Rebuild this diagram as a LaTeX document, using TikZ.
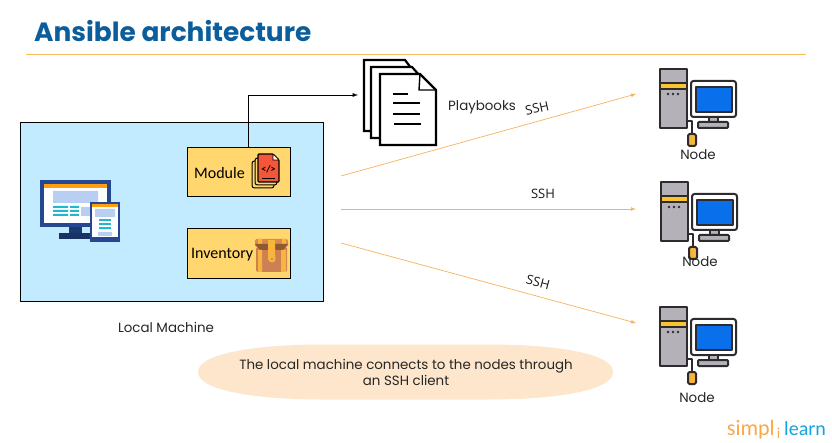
\documentclass[tikz,border=0pt]{standalone}
\usepackage{fontspec}
\setmainfont{Open Sans}
\newfontfamily\titlefont{Poppins}
\newfontfamily\labelfont{Carlito}
\definecolor{titleblue}{HTML}{0B5E9B}
\definecolor{rulegold}{HTML}{FBBC5E}
\definecolor{skyfill}{HTML}{C2EBFF}
\definecolor{boxfill}{HTML}{FFD76E}
\definecolor{pillfill}{HTML}{FDE6CC}
\definecolor{navy}{HTML}{24478F}
\definecolor{teal}{HTML}{1FB8CF}
\definecolor{paleblue}{HTML}{B9CFF2}
\definecolor{amber}{HTML}{FF9F0F}
\definecolor{linkorange}{HTML}{F9B25C}
\definecolor{towergrey}{HTML}{B4B2B8}
\definecolor{screenblue}{HTML}{0A6FEA}
\definecolor{ink}{HTML}{2D2B2E}
\definecolor{codered}{HTML}{F4563A}
\definecolor{chest}{HTML}{CE8055}
\definecolor{chestgold}{HTML}{F7B53B}
\definecolor{chesttop}{HTML}{8F5A32}
\definecolor{logoorange}{HTML}{F9A84A}
\definecolor{logoblue}{HTML}{12A5E0}
\begin{document}
\begin{tikzpicture}[x=1pt, y=-1pt,
    box/.style={draw, line width=0.9pt, fill=boxfill, minimum width=103pt, minimum height=49.5pt, inner sep=0pt},
    caption/.style={font=\fontsize{13.4}{15}\titlefont, text=black!85, inner sep=0pt},
    sshlabel/.style={font=\fontsize{13}{15}\selectfont, text=black!90, inner sep=0pt},
    link/.style={-latex, linkorange, line width=0.7pt},
    page/.style={draw=black, fill=white, line width=2.2pt, line join=miter},
    pcpart/.style={draw=ink, line width=2pt, line join=round},
    pcicon/.pic={
        \draw[pcpart, fill=towergrey] (0,0) rectangle (27,59);
        \fill[chestgold!80!yellow] (1,14) rectangle (26,20);
        \draw[ink, line width=1.5pt] (0,14) -- (27,14) (0,20) -- (27,20);
        \foreach \dotx in {8,13,18} \fill[ink] (\dotx,25) circle (1.4pt);
        \draw[pcpart, line width=1.3pt, fill=none] (27,52) -- (32,52) -- (32,65);
        \draw[pcpart, fill=chestgold, rounded corners=1.5pt] (28,65) rectangle (36,77);
        \draw[pcpart, rounded corners=2.5pt, fill=white] (31,12) rectangle (76,48);
        \draw[pcpart, fill=screenblue] (36,18) rectangle (72,43);
        \draw[pcpart, line width=1.3pt, fill=towergrey] (49,48) rectangle (58,53);
        \draw[pcpart, fill=towergrey, rounded corners=1pt] (38,53) rectangle (68,59);
    }]
    % frame
    \path[use as bounding box, fill=white] (0,0) rectangle (832,443);
    % title
    \node[anchor=west, inner sep=0pt, text=titleblue, font=\fontsize{26.4}{30}\titlefont\bfseries] (title) at (34,31) {Ansible architecture};
    \coordinate (ruleL) at (26,54);
    \coordinate (ruleR) at (806,54);
    \draw[rulegold, line width=0.9pt] (ruleL) -- (ruleR);
    % local machine
    \node[draw, line width=0.9pt, fill=skyfill, minimum width=303pt, minimum height=179pt, inner sep=0pt] (local) at (171.5,211.5) {};
    \node[caption] (localname) at (166,327) {Local Machine};
    \node[box] (module) at (238.5,172) {};
    \node[box] (inventory) at (238.5,253.5) {};
    \node[anchor=west, inner sep=0pt, font=\fontsize{16}{18}\labelfont] (modulename) at (194,173) {Module};
    \node[anchor=west, inner sep=0pt, font=\fontsize{16}{18}\labelfont] (inventoryname) at (191,255) {Inventory};
    % desktop and tablet
    \fill[navy] (40,180) rectangle (111,227);
    \fill[amber] (44,184) rectangle (107,188);
    \fill[white] (44,188) rectangle (107,223);
    \fill[paleblue] (53,191) rectangle (98,203) (81,207) rectangle (90,216);
    \foreach \rowy in {207,211,215} \fill[teal] (53,\rowy-1) rectangle (68,\rowy+1) (70,\rowy-1) rectangle (79,\rowy+1);
    \fill[navy!80!black] (69,227) rectangle (82,233);
    \fill[navy!70!black] (59,233) rectangle (92,239);
    \fill[navy] (90,202) rectangle (120,242);
    \fill[amber] (92,204) rectangle (118,207);
    \fill[white] (92,207) rectangle (118,237);
    \fill[paleblue] (95,209) rectangle (115,217) (98,232) rectangle (112,236);
    \foreach \rowy in {220,224,228} \fill[teal] (99,\rowy-1) rectangle (111,\rowy+1);
    % module icon
    \foreach \shift in {0,3} \draw[black, line width=1pt, fill=boxfill, rounded corners=2.5pt] (252+\shift,161-\shift) rectangle (274+\shift,188-\shift);
    \draw[black, line width=1.1pt, fill=codered, rounded corners=1pt] (258,154) -- (273,154) -- (279,160) -- (279,182) -- (258,182) -- cycle;
    \draw[black, fill=white, line width=0.6pt] (273,154) -- (273,160) -- (279,160) -- cycle;
    \draw[black, line width=0.8pt] (262,178) -- (275,178);
    \node[inner sep=0pt, font=\fontsize{10}{11}\labelfont\bfseries] (codetag) at (268.5,169) {</>};
    % inventory icon
    \fill[chest, rounded corners=1.5pt] (256,247) rectangle (287,272);
    \fill[chest!80!chestgold, rounded corners=2pt] (255,239) rectangle (288,247);
    \fill[chestgold] (258,239) rectangle (262,245) (282,239) rectangle (286,245);
    \fill[chesttop] (255,244) -- (288,244) -- (283,250) -- (260,250) -- cycle;
    \fill[chestgold] (258,250) rectangle (262,272) (281,250) rectangle (286,272) (268,240) rectangle (275,260);
    \fill[chestgold] (272,259) circle (3.5pt);
    \fill[chest] (272,259) circle (1.2pt);
    % playbooks
    \draw[page] (364,60) -- (405,60) -- (420,80) -- (420,131) -- (364,131) -- cycle;
    \draw[page] (371,67) -- (412,67) -- (428,85) -- (428,138) -- (371,138) -- cycle;
    \draw[page] (380,74) -- (420,74) -- (436,90) -- (436,145) -- (380,145) -- cycle;
    \draw[black, line width=1.4pt] (420,74) -- (419,90) -- (436,90);
    \draw[black, line width=1.4pt] (393,94) -- (408,94) (393,103) -- (420,103) (393,114) -- (420,114) (394,124) -- (421,124);
    \coordinate (playin) at (358,95);
    \node[caption, anchor=west] (playname) at (448,107) {Playbooks};
    % target machines
    \pic (pcA) at (660,69) {pcicon};
    \pic (pcB) at (661,182) {pcicon};
    \pic (pcC) at (660,307) {pcicon};
    \node[caption] (nodeA) at (698,155) {Node};
    \node[caption] (nodeB) at (700,262) {Node};
    \node[caption] (nodeC) at (697,398) {Node};
    % edges
    \coordinate (startA) at (341,176);
    \coordinate (startB) at (341,209);
    \coordinate (startC) at (341,243);
    \coordinate (endA) at (636,94);
    \coordinate (endB) at (636,209);
    \coordinate (endC) at (636,323);
    \draw[link] (startA) -- (endA);
    \draw[link] (startB) -- (endB);
    \draw[link] (startC) -- (endC);
    \draw[-latex, black, line width=0.9pt] ([xshift=9.5pt]module.north) -- (248,95) -- (playin);
    \node[sshlabel, rotate=12] (sshA) at (537,108) {SSH};
    \node[sshlabel] (sshB) at (543,194) {SSH};
    \node[sshlabel, rotate=-15] (sshC) at (538,282) {SSH};
    % note
    \fill[pillfill] (198,372) .. controls (198,352) and (265,344.5) .. (320,344.5) -- (490,344.5) .. controls (548,344.5) and (613,352) .. (613,372) .. controls (613,392) and (548,399.5) .. (490,399.5) -- (320,399.5) .. controls (265,399.5) and (198,392) .. (198,372) -- cycle;
    \node[align=center, inner sep=0pt, font=\fontsize{13.4}{16}\titlefont, text=black!85] (note) at (406,372) {The local machine connects to the nodes through\\an SSH client};
    % logo
    \node[anchor=base east, inner sep=0pt, text=logoorange, font=\fontsize{22}{24}\labelfont] (simpl) at (775,435) {simpl};
    \node[anchor=base, inner sep=0pt, text=logoorange, font=\fontsize{15}{16}\labelfont] (logoi) at (778.5,438) {i};
    \node[anchor=base west, inner sep=0pt, text=logoblue, font=\fontsize{20}{22}\labelfont] (learn) at (784,435) {learn};
\end{tikzpicture}
\end{document}
